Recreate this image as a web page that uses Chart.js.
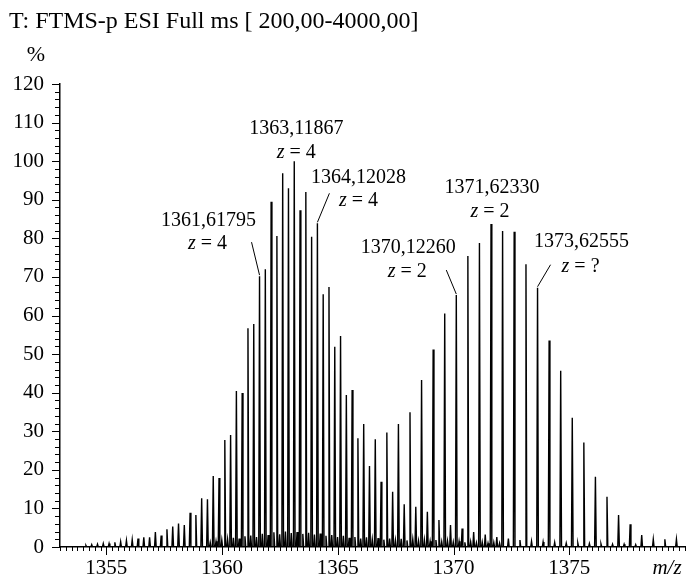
<!DOCTYPE html>
<html>
<head>
<meta charset="utf-8">
<script src="https://cdn.jsdelivr.net/npm/chart.js@4.4.1/dist/chart.umd.min.js"></script>
<style>
  html, body { margin: 0; padding: 0; background: #fff; }
  canvas { display: block; }
</style>
</head>
<body>
<canvas id="spectrum" width="687" height="581"></canvas>
<script>
// Spectrum data: m/z and relative intensity (%)

const peakMz = [
  1354.12, 1354.37, 1354.62, 1354.87, 1355.12, 1355.37, 1355.62, 1355.87,
  1356.12, 1356.37, 1356.62, 1356.87, 1357.12, 1357.37, 1357.62, 1357.87,
  1358.12, 1358.37, 1358.62, 1358.87, 1359.12, 1359.37, 1359.62, 1359.87,
  1360.12, 1360.37, 1360.62, 1360.87, 1361.12, 1361.37, 1361.62, 1361.87,
  1362.12, 1362.37, 1362.62, 1362.87, 1363.12, 1363.37, 1363.62, 1363.87,
  1364.12, 1364.37, 1364.62, 1364.87, 1365.12, 1365.37, 1365.62, 1365.87,
  1366.12, 1366.37, 1366.62, 1366.87, 1367.12, 1367.37, 1367.62, 1367.87,
  1368.12, 1368.37, 1368.62, 1368.87, 1369.12, 1369.37, 1369.62, 1369.87,
  1370.12, 1370.37, 1370.62, 1370.87, 1371.12, 1371.37, 1371.62, 1371.87,
  1372.12, 1372.37, 1372.62, 1372.87, 1373.13, 1373.37, 1373.63, 1373.87,
  1374.13, 1374.37, 1374.63, 1374.87, 1375.13, 1375.37, 1375.63, 1375.87,
  1376.13, 1376.37, 1376.63, 1376.87, 1377.13, 1377.37, 1377.63, 1377.87,
  1378.13, 1378.63, 1379.13, 1379.63
];
const peakIntensity = [
  0.4, 0.6, 0.7, 0.9, 0.9, 1.2, 1.4, 1.7,
  1.9, 2.2, 2.5, 2.5, 3.9, 3.0, 4.6, 5.3,
  6.1, 5.7, 8.9, 8.3, 12.6, 12.4, 18.4, 17.9,
  27.7, 29.0, 40.4, 39.9, 56.7, 57.8, 70.2, 72.0,
  89.5, 80.6, 96.9, 93.0, 100, 87.3, 92.0, 80.4,
  83.9, 65.5, 67.4, 51.9, 54.7, 39.4, 40.7, 28.2,
  31.9, 21.0, 27.9, 16.9, 29.7, 14.3, 31.9, 11.1,
  34.9, 10.4, 43.3, 9.1, 51.2, 7.0, 60.5, 5.7,
  65.3, 4.8, 75.4, 3.9, 78.8, 3.2, 83.7, 2.6,
  81.9, 2.2, 81.7, 1.8, 73.3, 1.5, 67.2, 1.3,
  53.5, 1.2, 45.7, 1.0, 33.5, 1.0, 27.1, 0.9,
  18.2, 0.8, 13.0, 0.7, 8.3, 0.7, 5.9, 0.6,
  3.1, 2.0, 2.0, 2.0
];

// small baseline peaks between the isotope lines
const minorMz = [
  1359.49, 1359.74, 1359.99, 1360.24, 1360.49, 1360.74, 1360.99, 1361.24,
  1361.49, 1361.74, 1361.99, 1362.24, 1362.49, 1362.74, 1362.99, 1363.24,
  1363.49, 1363.74, 1363.99, 1364.24, 1364.49, 1364.74, 1364.99, 1365.24,
  1365.49, 1365.74, 1365.99, 1366.24, 1366.49, 1366.74, 1366.99, 1367.24,
  1367.49, 1367.74, 1367.99, 1368.24, 1368.49, 1368.74, 1368.99, 1369.24,
  1369.49, 1369.74, 1369.99, 1370.24, 1370.49, 1370.74, 1370.99, 1371.24,
  1371.49, 1371.74, 1371.99
];
const minorIntensity = [
  1.2, 1.5, 1.8, 2.0, 2.4, 2.2, 2.8, 3.0,
  2.6, 3.4, 3.1, 3.8, 3.3, 4.0, 3.6, 3.9,
  3.4, 3.7, 3.2, 3.5, 2.9, 3.1, 2.6, 2.9,
  2.4, 2.6, 2.2, 2.5, 2.0, 2.3, 1.9, 2.2,
  1.8, 2.1, 1.7, 2.0, 1.6, 1.9, 1.5, 1.8,
  1.4, 1.6, 1.3, 1.5, 1.2, 1.4, 1.1, 1.3,
  1.0, 1.2, 1.0
];

const xTickLabels = [1355, 1360, 1365, 1370, 1375];
const yTickLabels = [0, 10, 20, 30, 40, 50, 60, 70, 80, 90, 100, 110, 120];

// annotated peaks
const labelMz = [1361.62, 1363.12, 1364.12, 1370.12, 1371.62, 1373.63];
const labelText = ["1361,61795", "1363,11867", "1364,12028", "1370,12260", "1371,62330", "1373,62555"];
const labelCharge = ["4", "4", "4", "2", "2", "?"];

// label placement relative to the peak top (px)
const labelLayout = [
  { dx1: -51, dy1: -55, dx2: -52, dy2: -32, leader: [-8, -34] },
  { dx1: 2, dy1: -32, dx2: 2, dy2: -8, leader: null },
  { dx1: 41, dy1: -46, dx2: 41, dy2: -23, leader: [12, -30] },
  { dx1: -48, dy1: -47, dx2: -49, dy2: -23, leader: [-10, -25] },
  { dx1: 1, dy1: -36, dx2: -1, dy2: -12, leader: null },
  { dx1: 44, dy1: -46, dx2: 43, dy2: -21, leader: [13, -23] }
];

const FONT = "Liberation Serif";
const PEAK_HALF_WIDTH = 0.035;

// build the stick profile (each peak as a narrow spike)
let sticks = [];
for (let i = 0; i < peakMz.length; i++) sticks.push([peakMz[i], peakIntensity[i]]);
for (let i = 0; i < minorMz.length; i++) sticks.push([minorMz[i], minorIntensity[i]]);
sticks.sort((a, b) => a[0] - b[0]);

let profile = [];
for (let s of sticks) {
  profile.push({ x: s[0] - PEAK_HALF_WIDTH, y: 0 });
  profile.push({ x: s[0], y: s[1] });
  profile.push({ x: s[0] + PEAK_HALF_WIDTH, y: 0 });
}

function intensityAt(mz) {
  let i = peakMz.findIndex((m) => Math.abs(m - mz) < 0.02);
  return peakIntensity[i];
}

// Tick marks, axis titles and peak labels

const decorations = {
  id: "decorations",
  afterDraw(chart) {
    const ctx = chart.ctx;
    const x = chart.scales.x;
    const y = chart.scales.y;
    const area = chart.chartArea;

    ctx.save();
    ctx.strokeStyle = "#000";
    ctx.fillStyle = "#000";
    ctx.lineWidth = 1;

    // x ticks: every 0.25, long at labelled values
    for (let v = Math.ceil(x.min * 4) / 4; v <= x.max + 1e-6; v += 0.25) {
      let px = Math.round(x.getPixelForValue(v)) + 0.5;
      let len = xTickLabels.includes(Math.round(v * 100) / 100) ? 8 : 4;
      ctx.beginPath();
      ctx.moveTo(px, area.bottom);
      ctx.lineTo(px, area.bottom + len);
      ctx.stroke();
    }

    // y ticks: every 2, long at labelled values
    for (let v = 0; v <= y.max; v += 2) {
      let py = Math.round(y.getPixelForValue(v)) + 0.5;
      let len = yTickLabels.includes(v) ? 8 : 5;
      ctx.beginPath();
      ctx.moveTo(area.left, py);
      ctx.lineTo(area.left - len, py);
      ctx.stroke();
    }

    // header and axis titles
    ctx.textBaseline = "middle";
    ctx.textAlign = "left";
    ctx.font = "24px '" + FONT + "'";
    ctx.fillText("T: FTMS-p ESI Full ms [ 200,00-4000,00]", 9, 22);
    ctx.textAlign = "center";
    ctx.font = "22px '" + FONT + "'";
    ctx.fillText("%", 36, 55);
    ctx.font = "italic 21px '" + FONT + "'";
    ctx.fillText("m/z", 667, 568);

    // peak labels
    for (let i = 0; i < labelMz.length; i++) {
      let px = x.getPixelForValue(labelMz[i]);
      let py = y.getPixelForValue(intensityAt(labelMz[i]));
      let lay = labelLayout[i];

      ctx.font = "20px '" + FONT + "'";
      ctx.textAlign = "center";
      ctx.fillText(labelText[i], px + lay.dx1, py + lay.dy1);

      // "z = n" with italic z
      let rest = " = " + labelCharge[i];
      ctx.font = "italic 20px '" + FONT + "'";
      let wz = ctx.measureText("z").width;
      ctx.font = "20px '" + FONT + "'";
      let wr = ctx.measureText(rest).width;
      let left = px + lay.dx2 - (wz + wr) / 2;
      ctx.textAlign = "left";
      ctx.font = "italic 20px '" + FONT + "'";
      ctx.fillText("z", left, py + lay.dy2);
      ctx.font = "20px '" + FONT + "'";
      ctx.fillText(rest, left + wz, py + lay.dy2);

      if (lay.leader) {
        ctx.beginPath();
        ctx.moveTo(px + lay.leader[0], py + lay.leader[1]);
        ctx.lineTo(px, py - 1);
        ctx.stroke();
      }
    }
    ctx.restore();
  }
};

Chart.defaults.font.family = FONT;
Chart.defaults.color = "#000";

let spectrumCanvas = document.getElementById("spectrum").getContext("2d");
let spectrumChart = new Chart(spectrumCanvas, {
  type: "line",
  data: {
    datasets: [
      {
        data: profile,
        borderColor: "#000",
        borderWidth: 1.4,
        pointRadius: 0,
        tension: 0,
        fill: false
      }
    ]
  },
  options: {
    responsive: false,
    animation: false,
    layout: { padding: { top: 84, right: 2, left: 0, bottom: 0 } },
    plugins: { legend: { display: false }, tooltip: { enabled: false } },
    scales: {
      x: {
        type: "linear",
        min: 1353,
        max: 1380,
        afterBuildTicks: (scale) => {
          scale.ticks = xTickLabels.map((v) => ({ value: v }));
        },
        afterFit: (scale) => {
          scale.height = 34;
        },
        ticks: { autoSkip: false, maxRotation: 0, padding: 9, font: { size: 21 }, callback: (v) => String(v) },
        grid: { display: false, drawTicks: false },
        border: { color: "#000", width: 1.5 }
      },
      y: {
        type: "linear",
        min: 0,
        max: 120,
        afterBuildTicks: (scale) => {
          scale.ticks = yTickLabels.map((v) => ({ value: v }));
        },
        afterFit: (scale) => {
          scale.width = 60;
        },
        ticks: { autoSkip: false, padding: 16, font: { size: 21 } },
        grid: { display: false, drawTicks: false },
        border: { color: "#000", width: 1.5 }
      }
    }
  },
  plugins: [decorations]
});
</script>
</body>
</html>
